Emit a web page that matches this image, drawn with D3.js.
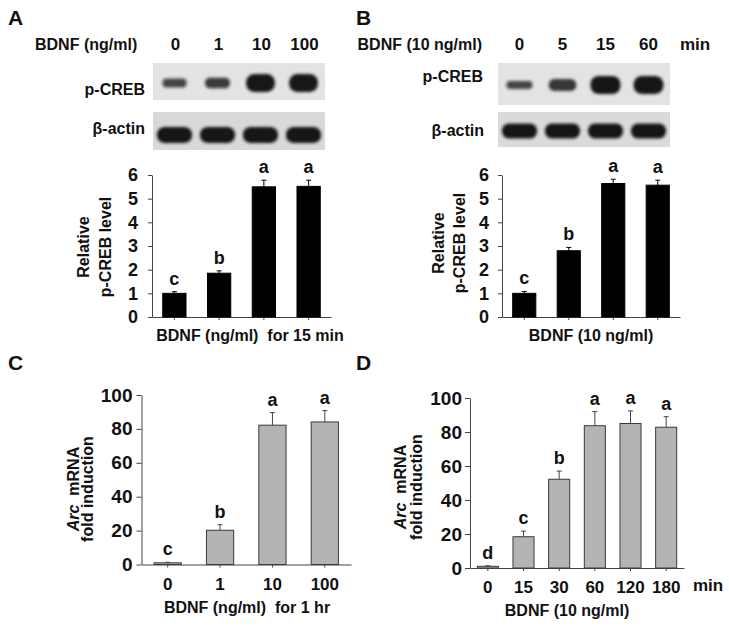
<!DOCTYPE html>
<html>
<head>
<meta charset="utf-8">
<script src="https://cdn.jsdelivr.net/npm/d3@7"></script>
<style>
  body { margin: 0; background: #fff; }
  svg { display: block; font-family: "Liberation Sans", Arial, sans-serif; font-weight: bold; }
  text { white-space: pre; }
</style>
</head>
<body>
<svg id="fig" width="729" height="626"></svg>
<script>
// lanes / categories
var lanesA = ["0", "1", "10", "100"];
var lanesB = ["0", "5", "15", "60"];
var doseC = ["0", "1", "10", "100"];
var timeD = ["0", "15", "30", "60", "120", "180"];

// relative p-CREB level (A: dose, B: time)
var pcrebA = [1.0, 1.85, 5.5, 5.52];
var pcrebErrA = [0.07, 0.1, 0.28, 0.26];
var lettersA = ["c", "b", "a", "a"];

var pcrebB = [1.0, 2.8, 5.64, 5.57];
var pcrebErrB = [0.08, 0.14, 0.18, 0.21];
var lettersB = ["c", "b", "a", "a"];

// Arc mRNA fold induction (C: dose, D: time)
var arcC = [1.0, 20.2, 82.2, 84.1];
var arcErrC = [0.3, 3.3, 7.4, 6.7];
var lettersC = ["c", "b", "a", "a"];

var arcD = [1.0, 18.4, 52.2, 83.7, 85.0, 82.8];
var arcErrD = [0.3, 3.3, 4.8, 8.3, 7.4, 6.2];
var lettersD = ["d", "c", "b", "a", "a", "a"];

var ticksAB = [0, 1, 2, 3, 4, 5, 6];
var ticksCD = [0, 20, 40, 60, 80, 100];

var svg = d3.select("#fig");

var defs = svg.append("defs");
defs.append("filter").attr("id", "blur").attr("x", "-30%").attr("y", "-60%").attr("width", "160%").attr("height", "220%")
  .append("feGaussianBlur").attr("stdDeviation", 1.8);

function txt(x, y, s, size, anchor) {
  return svg.append("text").attr("x", x).attr("y", y).attr("font-size", size)
    .attr("text-anchor", anchor || "start").attr("fill", "#111").text(s);
}

// panel letters
txt(8, 25, "A", 21);
txt(356, 25, "B", 21);
txt(8, 370, "C", 21);
txt(356, 370, "D", 21);

// blot strip: box + bands, band size follows the quantified level
function blot(x0, x1, y0, y1, lanes, vals, bg, hRange, wRange, cy) {
  var x = d3.scaleBand().domain(lanes).range([x0, x1]);
  var h = d3.scaleLinear().domain([1, 5.6]).range(hRange);
  var w = d3.scaleLinear().domain([1, 5.6]).range(wRange);
  var op = d3.scaleLinear().domain([1, 5.6]).range([0.75, 1]);
  var g = svg.append("g");
  g.append("rect").attr("x", x0).attr("y", y0).attr("width", x1 - x0).attr("height", y1 - y0).attr("fill", bg);
  g.selectAll("rect.band").data(lanes).join("rect").attr("class", "band")
    .attr("x", (d, i) => x(d) + x.bandwidth() / 2 - w(vals[i]) / 2)
    .attr("y", (d, i) => cy - h(vals[i]) / 2)
    .attr("width", (d, i) => w(vals[i]))
    .attr("height", (d, i) => h(vals[i]))
    .attr("rx", (d, i) => h(vals[i]) / 2.2)
    .attr("fill", "#141414")
    .attr("fill-opacity", (d, i) => op(vals[i]))
    .attr("filter", "url(#blur)");
  return x;
}

// ---- A blots
var xa = blot(153, 325, 63, 100, lanesA, pcrebA, "#e3e3e3", [9, 18], [24, 29], 83);
blot(153, 325, 112, 150, lanesA, [5.6, 5.6, 5.6, 5.6], "#d9d9d9", [16, 16], [35, 35], 135);
txt(35, 50, "BDNF (ng/ml)", 16);
lanesA.forEach(function (d) { txt(xa(d) + xa.bandwidth() / 2 + 1, 50, d, 17, "middle"); });
txt(145, 95, "p-CREB", 16, "end");
txt(145, 134, "β-actin", 16, "end");

// ---- B blots
var xb = blot(498, 670, 63, 105, lanesB, pcrebB, "#e3e3e3", [8, 18], [26, 30], 85);
blot(498, 670, 112, 147, lanesB, [5.6, 5.6, 5.6, 5.6], "#dadada", [15, 15], [35, 35], 131);
txt(482, 50, "BDNF (10 ng/ml)", 16, "end");
lanesB.forEach(function (d) { txt(xb(d) + xb.bandwidth() / 2, 50, d, 17, "middle"); });
txt(695, 50, "min", 17, "middle");
txt(483, 82, "p-CREB", 16, "end");
txt(484, 136, "β-actin", 16, "end");

// bar panel
function barPanel(o) {
  var x = d3.scaleBand().domain(o.cats).range([o.x0, o.x1]).paddingInner(o.pad).paddingOuter(o.pad / 2);
  var y = d3.scaleLinear().domain([0, o.max]).range([o.y0, o.y1]);
  var g = svg.append("g");

  var yAx = g.append("g").attr("transform", "translate(" + o.x0 + ",0)")
    .call(d3.axisLeft(y).tickValues(o.ticks).tickFormat(d3.format("d"))
      .tickSize(o.tick).tickSizeOuter(0).tickPadding(o.tickPad));
  yAx.selectAll("text").attr("font-size", o.tickFont).attr("font-family", null).attr("fill", "#111");
  yAx.selectAll("path,line").attr("stroke", "#444");

  var xAx = g.append("g").attr("transform", "translate(0," + o.y0 + ")")
    .call(d3.axisBottom(x).tickSize(3).tickSizeOuter(0).tickPadding(10).tickFormat(o.xLabels ? null : ""));
  xAx.selectAll("text").attr("font-size", 17).attr("font-family", null).attr("fill", "#111");
  xAx.selectAll("path,line").attr("stroke", "#444");

  // error bars (upper only)
  g.selectAll("line.err").data(o.vals).join("line").attr("class", "err")
    .attr("x1", (d, i) => x(o.cats[i]) + x.bandwidth() / 2)
    .attr("x2", (d, i) => x(o.cats[i]) + x.bandwidth() / 2)
    .attr("y1", d => y(d)).attr("y2", (d, i) => y(d + o.errs[i]))
    .attr("stroke", o.errColor).attr("stroke-width", 1);
  g.selectAll("line.cap").data(o.vals).join("line").attr("class", "cap")
    .attr("x1", (d, i) => x(o.cats[i]) + x.bandwidth() / 2 - 2.5)
    .attr("x2", (d, i) => x(o.cats[i]) + x.bandwidth() / 2 + 2.5)
    .attr("y1", (d, i) => y(d + o.errs[i])).attr("y2", (d, i) => y(d + o.errs[i]))
    .attr("stroke", o.errColor).attr("stroke-width", 1);

  g.selectAll("rect.bar").data(o.vals).join("rect").attr("class", "bar")
    .attr("x", (d, i) => x(o.cats[i]))
    .attr("y", d => y(d))
    .attr("width", x.bandwidth())
    .attr("height", d => o.y0 - y(d))
    .attr("fill", o.fill)
    .attr("stroke", o.stroke).attr("stroke-width", 1);

  g.selectAll("text.sig").data(o.letters).join("text").attr("class", "sig")
    .attr("x", (d, i) => x(o.cats[i]) + x.bandwidth() / 2)
    .attr("y", (d, i) => y(o.vals[i] + o.errs[i]) - 7)
    .attr("text-anchor", "middle").attr("font-size", 18).attr("fill", "#111")
    .text(d => d);

  // two-line rotated y title
  o.yTitle.forEach(function (line) {
    var t = g.append("text").attr("transform", "translate(" + line.x + "," + o.yMid + ") rotate(-90)")
      .attr("text-anchor", "middle").attr("font-size", 16).attr("fill", "#111");
    line.parts.forEach(function (p) {
      t.append("tspan").attr("font-style", p.italic ? "italic" : null).text(p.s);
    });
  });
  return x;
}

barPanel({
  cats: lanesA, vals: pcrebA, errs: pcrebErrA, letters: lettersA,
  x0: 152, x1: 331, y0: 317, y1: 175, max: 6, ticks: ticksAB, pad: 0.48,
  tick: 4, tickPad: 10, tickFont: 18, xLabels: false,
  fill: "#000", stroke: "#000", errColor: "#000",
  yMid: 247, yTitle: [{ x: 89, parts: [{ s: "Relative" }] }, { x: 111, parts: [{ s: "p-CREB level" }] }]
});
txt(250, 341, "BDNF (ng/ml)  for 15 min", 16, "middle");

barPanel({
  cats: lanesB, vals: pcrebB, errs: pcrebErrB, letters: lettersB,
  x0: 502, x1: 680, y0: 317, y1: 175, max: 6, ticks: ticksAB, pad: 0.48,
  tick: 4, tickPad: 9, tickFont: 18, xLabels: false,
  fill: "#000", stroke: "#000", errColor: "#000",
  yMid: 243, yTitle: [{ x: 444, parts: [{ s: "Relative" }] }, { x: 465, parts: [{ s: "p-CREB level" }] }]
});
txt(591, 341, "BDNF (10 ng/ml)", 16, "middle");

barPanel({
  cats: doseC, vals: arcC, errs: arcErrC, letters: lettersC,
  x0: 141.5, x1: 351, y0: 564.5, y1: 395, max: 100, ticks: ticksCD, pad: 0.48,
  tick: 5, tickPad: 4, tickFont: 19, xLabels: true,
  fill: "#b4b4b4", stroke: "#3a3a3a", errColor: "#444",
  yMid: 489, yTitle: [{ x: 79, parts: [{ s: "Arc", italic: true }, { s: "  mRNA" }] }, { x: 93, parts: [{ s: "fold induction" }] }]
});
txt(247, 613, "BDNF (ng/ml)  for 1 hr", 16, "middle");

barPanel({
  cats: timeD, vals: arcD, errs: arcErrD, letters: lettersD,
  x0: 470, x1: 684, y0: 568, y1: 398, max: 100, ticks: ticksCD, pad: 0.41,
  tick: 5, tickPad: 3, tickFont: 19, xLabels: true,
  fill: "#b4b4b4", stroke: "#3a3a3a", errColor: "#444",
  yMid: 487, yTitle: [{ x: 406, parts: [{ s: "Arc", italic: true }, { s: "  mRNA" }] }, { x: 422, parts: [{ s: "fold induction" }] }]
});
txt(708, 591, "min", 17, "middle");
txt(567, 616, "BDNF (10 ng/ml)", 16, "middle");
</script>
</body>
</html>
